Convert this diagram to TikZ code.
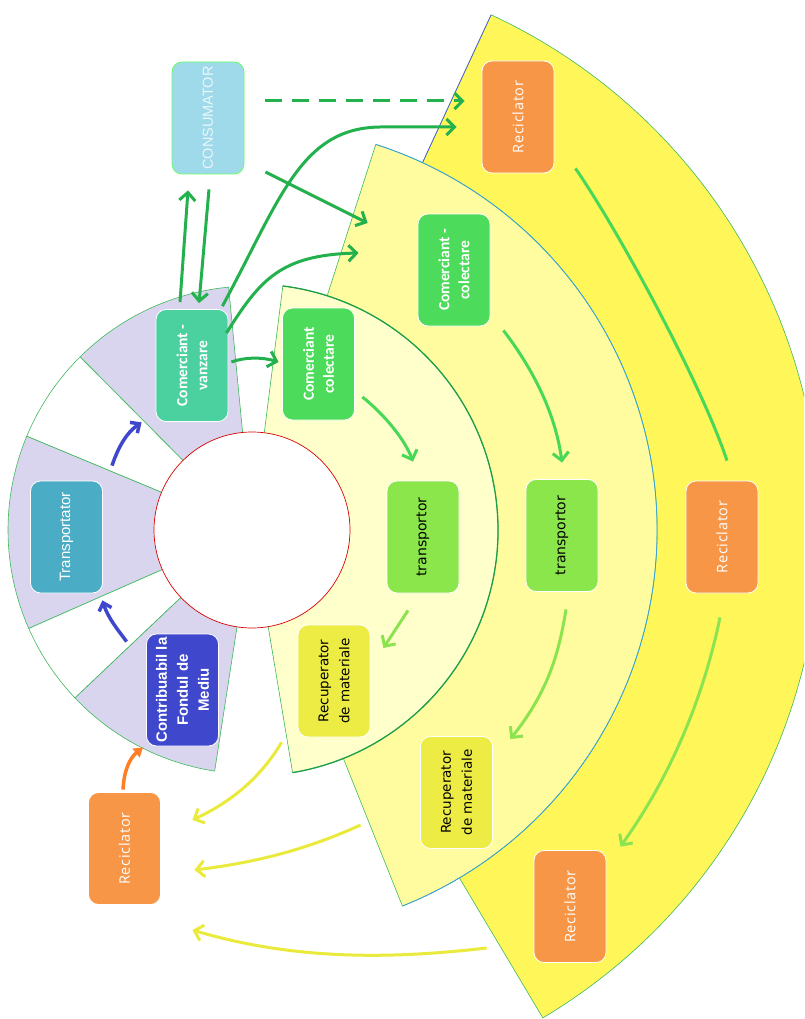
\documentclass[tikz,border=0pt]{standalone}
\usepackage{fontspec}
\usetikzlibrary{arrows.meta,calc}
\newfontfamily\fcal{Carlito}
\newfontfamily\fos[LetterSpace=5]{Open Sans}
\newfontfamily\far{Liberation Sans}
\newfontfamily\fdv{DejaVu Sans}
\definecolor{ybright}{HTML}{FFF65A}
\definecolor{ymed}{HTML}{FFFCA0}
\definecolor{ylight}{HTML}{FFFFCC}
\definecolor{lav}{HTML}{D9D5EE}
\definecolor{secgreen}{HTML}{3CB95A}
\definecolor{darkarc}{HTML}{1E9E4A}
\definecolor{medblue}{HTML}{3BA0E0}
\definecolor{edgeblue}{HTML}{5A5AD8}
\definecolor{consfill}{HTML}{9FDAEA}
\definecolor{constext}{HTML}{EAF6FA}
\definecolor{tealfill}{HTML}{4BD0A0}
\definecolor{grnfill}{HTML}{4CDB5A}
\definecolor{orfill}{HTML}{F79646}
\definecolor{trfill}{HTML}{4BACC6}
\definecolor{limefill}{HTML}{8BE64B}
\definecolor{indfill}{HTML}{3F48CC}
\definecolor{yelfill}{HTML}{ECEC44}
\definecolor{agreen}{HTML}{22B14C}
\definecolor{bgreen}{HTML}{48D858}
\definecolor{lgreen}{HTML}{8BE350}
\definecolor{yarrow}{HTML}{EAEA3C}
\definecolor{oarrow}{HTML}{FF7F27}
\definecolor{barrow}{HTML}{3F48CC}
\begin{document}
\begin{tikzpicture}[x=1pt,y=-1pt,
  box/.style={rounded corners=10pt, rotate=90, minimum width=112pt, minimum height=72pt,
    inner sep=2pt, align=center, draw=white, line width=0.8pt},
  sect/.style={draw=secgreen, line width=0.6pt},
  tipb/.style={-{Straight Barb[length=8pt,width=16pt]}},
  ga/.style={draw=agreen, line width=3pt, tipb},
  gb/.style={draw=bgreen, line width=3pt, tipb},
  gl/.style={draw=lgreen, line width=3pt, tipb},
  ya/.style={draw=yarrow, line width=3pt, tipb},
  ba/.style={draw=barrow, line width=3.5pt, -{Straight Barb[length=7pt,width=13pt]}},
  oa/.style={draw=oarrow, line width=3.5pt, -{Triangle[length=9pt,width=11pt]}}
]
\useasboundingbox (0,0) rectangle (804,1019);
\clip (0,0) rectangle (804,1019);
\coordinate (C) at (252,530);

% outer bright band
\filldraw[fill=ybright, sect] (C) -- ([shift={(59.2:568)}]C) arc[start angle=59.2, end angle=-65.1, radius=568] -- cycle;
\draw[edgeblue, line width=0.7pt] ([shift={(-65.1:400)}]C) -- ([shift={(-65.1:568)}]C);
% middle band
\filldraw[fill=ymed, sect] (C) -- ([shift={(68.2:405)}]C) arc[start angle=68.2, end angle=-72.2, radius=405] -- cycle;
\draw[medblue, line width=0.8pt] ([shift={(68.2:405)}]C) arc[start angle=68.2, end angle=-72.2, radius=405];
% inner light band
\filldraw[fill=ylight, sect] (C) -- ([shift={(80.5:246)}]C) arc[start angle=80.5, end angle=-82.8, radius=246] -- cycle;
\draw[darkarc, line width=1.3pt] ([shift={(80.5:246)}]C) arc[start angle=80.5, end angle=-82.8, radius=246];
% left ring sectors
\foreach \a/\b/\c in {-95.5/-134.8/lav, -134.8/-157.4/white, -157.4/-203.8/lav, -203.8/-223.5/white, -223.5/-261.2/lav}
  \filldraw[fill=\c, sect] (C) -- ([shift={(\a:244)}]C) arc[start angle=\a, end angle=\b, radius=244] -- cycle;
% centre circle
\filldraw[fill=white, draw=red!85!black, line width=0.7pt] (C) circle[radius=98];

% nodes
\node[box, fill=consfill, draw=green!60, text=constext, font=\far\fontsize{14.5}{17}\selectfont] (cons) at (208,118) {CONSUMATOR};
\node[box, fill=tealfill, text=white, font=\fcal\bfseries\fontsize{15.5}{20}\selectfont] (cv) at (192,365.5) {Comerciant -\\vanzare};
\node[box, fill=grnfill, text=white, font=\fcal\bfseries\fontsize{15.5}{20}\selectfont] (ccl) at (318.5,364) {Comerciant\\colectare};
\node[box, fill=grnfill, text=white, font=\fcal\bfseries\fontsize{15.5}{20}\selectfont] (cc2) at (454,270) {Comerciant -\\colectare};
\node[box, fill=orfill, text=white, font=\fos\fontsize{14.5}{17}\selectfont] (rt) at (518,117) {Reciclator};
\node[box, fill=trfill, text=white, font=\far\fontsize{15}{18}\selectfont] (tr) at (66.5,537) {Transportator};
\node[box, fill=limefill, text=black, font=\fdv\fontsize{14}{17}\selectfont] (t1) at (423,537) {transportor};
\node[box, fill=limefill, text=black, font=\fdv\fontsize{14}{17}\selectfont] (t2) at (562,535.5) {transportor};
\node[box, fill=orfill, text=white, font=\fos\fontsize{14.5}{17}\selectfont] (rm) at (722,537) {Reciclator};
\node[box, fill=indfill, text=white, font=\far\bfseries\fontsize{15}{21}\selectfont] (cf) at (182.5,690) {Contribuabil la\\Fondul de\\Mediu};
\node[box, fill=yelfill, text=black, font=\fdv\fontsize{13.5}{21}\selectfont] (rec1) at (334,681) {Recuperator\\de materiale};
\node[box, fill=yelfill, text=black, font=\fdv\fontsize{13.5}{21}\selectfont] (rec2) at (456.5,792.5) {Recuperator\\de materiale};
\node[box, fill=orfill, text=white, font=\fos\fontsize{14.5}{17}\selectfont] (rb) at (570,906.5) {Reciclator};
\node[box, fill=orfill, text=white, font=\fos\fontsize{14.5}{17}\selectfont] (rl) at (124.5,848.5) {Reciclator};

% connectors around CONSUMATOR
\draw[ga] ($(cv.east)+(-12,-7)$) -- ($(cons.west)+(-20,16)$);
\draw[ga] ($(cons.west)+(1,15)$) -- ($(cv.east)+(7,-6)$);
\draw[ga, dash pattern=on 17pt off 10pt] ($(cons.south)+(21,-17)$) -- ($(rt.north)+(-17,-16)$);
\draw[ga] ($(cv.south east)+(-6,-3)$) .. controls (280,200) and (300,128) .. (380,127) -- ($(rt.north)+(-25,10)$);
\draw[ga] ($(cons.south)+(21,54)$) -- ($(cc2.north)+(-50,-47)$);
\draw[ga] ($(cv.south)+(-2,-32.5)$) .. controls (260,280) and (280,255) .. ($(cc2.north)+(-59,-17)$);
\draw[ga] ($(cv.south)+(3,-3.5)$) .. controls (245,357) and (262,357) .. ($(ccl.north)+(-3.5,-2)$);

% inner band
\draw[gb] ($(ccl.south)+(7.5,33)$) .. controls (385,415) and (405,440) .. ($(t1.east)+(-10,-19)$);
\draw[gl] ($(t1.west)+(-15,17)$) -- ($(rec1.south)+(13,-33)$);
% middle band
\draw[gb] ($(cc2.south west)+(13,4)$) .. controls (530,365) and (555,410) .. ($(t2.east)+(0,-16.5)$);
\draw[gl] ($(t2.west)+(4,17.5)$) .. controls (558,660) and (545,695) .. ($(rec2.south east)+(17.5,3)$);
% outer band
\draw[draw=bgreen, line width=3pt] ($(rt.south west)+(21,-5)$) .. controls (615,225) and (700,380) .. ($(rm.east)+(5,-20)$);
\draw[gl] ($(rm.west)+(-2,24)$) .. controls (705,690) and (675,770) .. ($(rb.south east)+(14,-3.5)$);

% yellow returns
\draw[ya] ($(rec1.north west)+(-16,5)$) .. controls (262,775) and (235,800) .. ($(rl.south)+(31.5,-28.5)$);
\draw[ya] ($(rec2.north)+(-59.5,32.5)$) .. controls (310,848) and (260,862) .. ($(rl.south)+(33.5,21.5)$);
\draw[ya] ($(rb.north)+(-47,41.5)$) .. controls (400,958) and (300,962) .. ($(rl.south)+(31.5,81.5)$);

% left ring
\draw[oa] ($(rl.east)+(-1.5,-2.5)$) .. controls (124,770) and (130,758) .. ($(cf.west)+(-39.5,1)$);
\draw[ba] ($(tr.east)+(45.5,-15)$) .. controls (118,448) and (126,433) .. ($(cv.north west)+(-14,0.5)$);
\draw[ba] ($(cf.north east)+(-19.5,8)$) .. controls (118,630) and (108,618) .. ($(tr.south west)+(-0.5,7)$);
\end{tikzpicture}
\end{document}
